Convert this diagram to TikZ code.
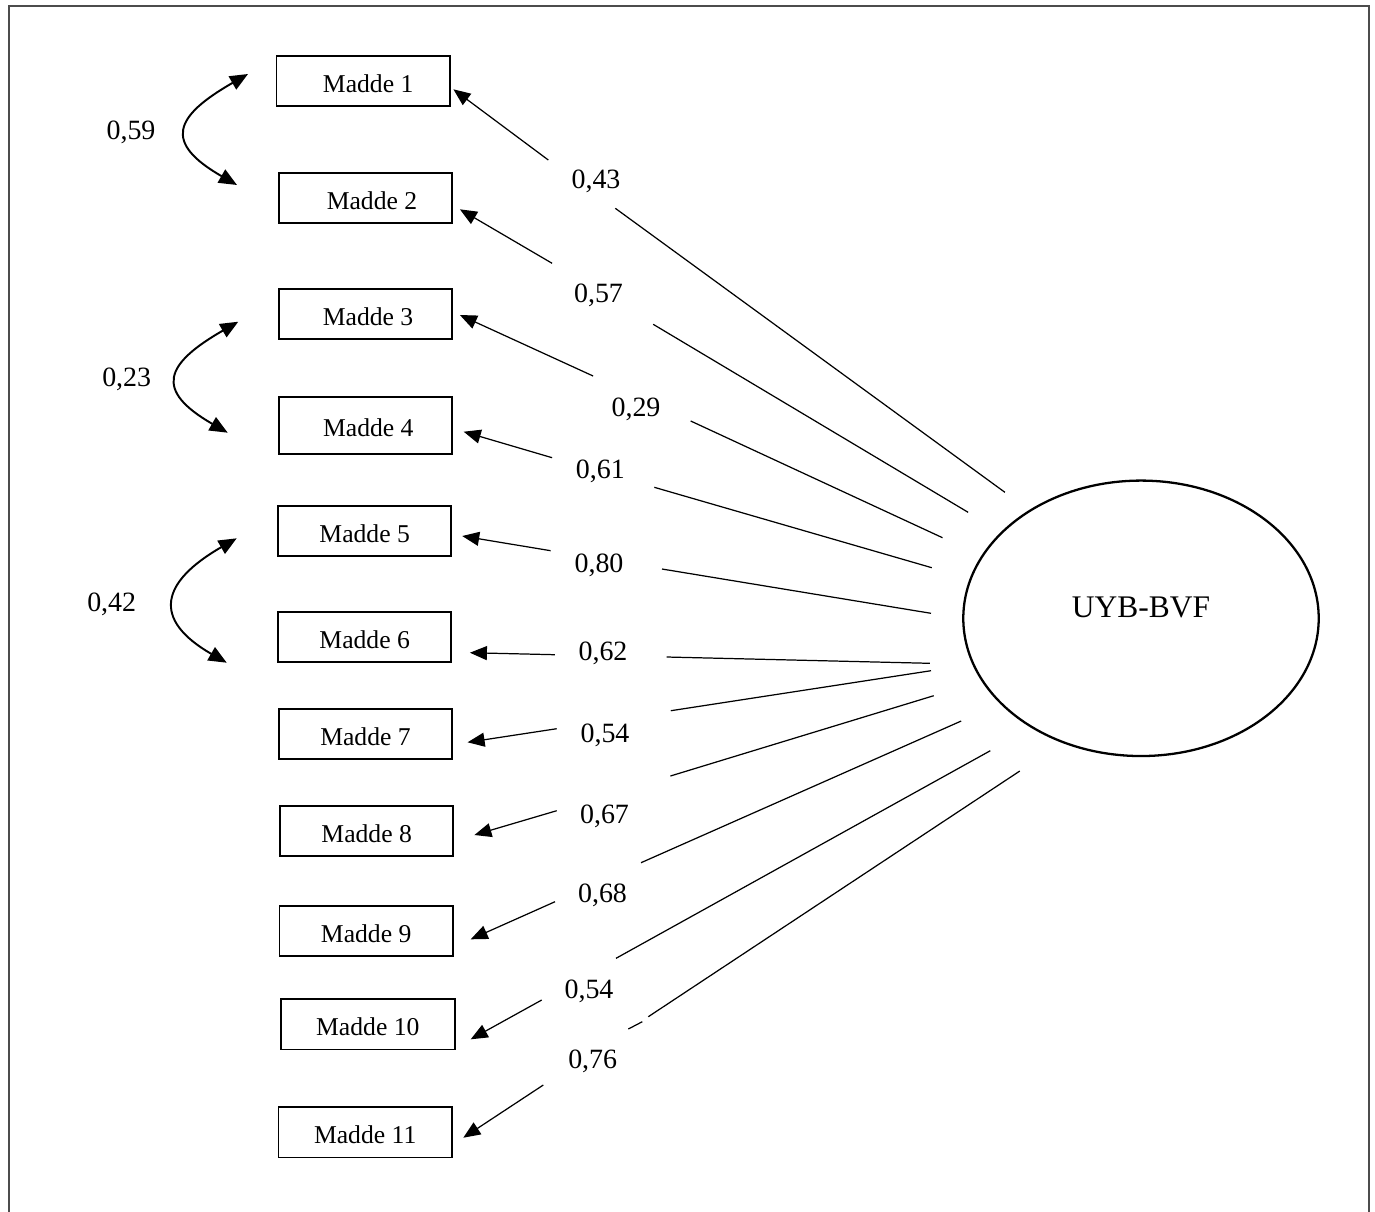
\documentclass[tikz,border=0pt]{standalone}
\usepackage{fontspec}
\setmainfont{Liberation Serif}
\usetikzlibrary{arrows.meta,shapes.geometric}
\begin{document}
\begin{tikzpicture}[x=0.02cm,y=-0.02cm,
  box/.style={draw,line width=1.1pt,minimum width=3.47cm,minimum height=1.01cm,inner sep=0pt,
    font=\fontsize{14.6}{17}\selectfont,text height=0.46cm,text depth=0pt},
  lbl/.style={anchor=base,inner sep=0pt,font=\fontsize{15.9}{18}\selectfont},
  conn/.style={line width=0.7pt},
  arr/.style={conn,-{Triangle[length=0.34cm,width=0.28cm]}},
  curv/.style={line width=1.1pt,{Triangle[length=0.36cm,width=0.3cm]}-{Triangle[length=0.36cm,width=0.3cm]}},
  frame/.style={draw=black!70,line width=1pt}
]
\useasboundingbox (0,0) rectangle (1375,1211);
% frame
\draw[frame] (9,1220) -- (9,6) -- (1369,6) -- (1369,1220);

% boxes
\node[box] (m1) at (363.2,80.8) {\hspace*{0.2cm}Madde 1};
\node[box] (m2) at (365.5,198) {\hspace*{0.26cm}Madde 2};
\node[box] (m3) at (365.3,313.8) {\hspace*{0.11cm}Madde 3};
\node[box,minimum height=1.13cm] (m4) at (365.3,425.3) {\hspace*{0.12cm}Madde 4};
\node[box] (m5) at (364.7,530.8) {Madde 5};
\node[box] (m6) at (364.7,636.8) {Madde 6};
\node[box] (m7) at (365.5,734.2) {Madde 7};
\node[box] (m8) at (366.7,831.2) {Madde 8};
\node[box] (m9) at (366.2,931.2) {Madde 9};
\node[box] (m10) at (367.8,1024.2) {Madde 10};
\node[box] (m11) at (365.2,1132.2) {Madde 11};

% latent
\node[ellipse,draw,line width=1.3pt,minimum width=7.11cm,minimum height=5.51cm,inner sep=0pt,
  font=\fontsize{17.9}{21}\selectfont,text height=0.44cm,text depth=0.49cm] (f) at (1141,618.3) {UYB-BVF};

% arrow tips and starts
\coordinate (s1) at (548.3,160);   \coordinate (t1) at (453.4,89.3);
\coordinate (s2) at (552.1,263.3); \coordinate (t2) at (459.9,209.3);
\coordinate (s3) at (593.1,376);   \coordinate (t3) at (459.9,315);
\coordinate (s4) at (552.1,457.7); \coordinate (t4) at (463.7,431.7);
\coordinate (s5) at (550.6,550.7); \coordinate (t5) at (462.2,536);
\coordinate (s6) at (554.8,654.7); \coordinate (t6) at (469.9,652.7);
\coordinate (s7) at (556.7,728.7); \coordinate (t7) at (467.6,742.3);
\coordinate (s8) at (556.7,810.7); \coordinate (t8) at (474.4,835);
\coordinate (s9) at (555,901.7);   \coordinate (t9) at (470.7,939.3);
\coordinate (s10) at (541.7,1000); \coordinate (t10) at (470.7,1039.3);
\coordinate (s11) at (543.3,1085); \coordinate (t11) at (463.3,1137.7);

% line ends
\coordinate (o1) at (1004.9,492.3); \coordinate (i1) at (615.3,208.3);
\coordinate (o2) at (968.1,512.3);  \coordinate (i2) at (653.2,324.3);
\coordinate (o3) at (942.5,537.7);  \coordinate (i3) at (690.7,421);
\coordinate (o4) at (931.8,567.7);  \coordinate (i4) at (654.3,487.3);
\coordinate (o5) at (931,613.3);    \coordinate (i5) at (662,569);
\coordinate (o6) at (929.9,663.3);  \coordinate (i6) at (666.6,657);
\coordinate (o7) at (931,670.7);    \coordinate (i7) at (670.8,710.7);
\coordinate (o8) at (933.7,695.7);  \coordinate (i8) at (670.4,776);
\coordinate (o9) at (961.2,721);    \coordinate (i9) at (641,862.7);
\coordinate (o10) at (990.3,750.7); \coordinate (i10) at (616,958.3);
\coordinate (o11) at (1019.8,771);  \coordinate (i11) at (648.3,1016.7);
\coordinate (d1) at (642.3,1021.7); \coordinate (d2) at (628.3,1029);

\foreach \k in {1,...,11}{
  \draw[arr] (s\k) -- (t\k);
  \draw[conn] (o\k) -- (i\k);
}
\draw[conn] (d1) -- (d2);

% loading labels
\node[lbl] (l1) at (596,188.3) {0,43};
\node[lbl] (l2) at (598.5,302.7) {0,57};
\node[lbl] (l3) at (636,416) {0,29};
\node[lbl] (l4) at (600.3,478.3) {0,61};
\node[lbl] (l5) at (599,572.7) {0,80};
\node[lbl] (l6) at (603,660) {0,62};
\node[lbl] (l7) at (605,742.7) {0,54};
\node[lbl] (l8) at (604.5,823.3) {0,67};
\node[lbl] (l9) at (602.5,902.7) {0,68};
\node[lbl] (l10) at (589,998.3) {0,54};
\node[lbl] (l11) at (592.7,1068.3) {0,76};

% correlations
\coordinate (ca1) at (248,74);     \coordinate (cb1) at (237,185);
\coordinate (ca2) at (238.3,321.7); \coordinate (cb2) at (227.7,432.7);
\coordinate (ca3) at (236.7,538.3); \coordinate (cb3) at (226.7,662.7);
\draw[curv] (ca1) .. controls (174,116.5) and (163,142.5) .. (cb1);
\draw[curv] (ca2) .. controls (164.6,364.1) and (154,390.3) .. (cb2);
\draw[curv] (ca3) .. controls (161.1,581.8) and (151.1,619.2) .. (cb3);
\node[lbl] (r1) at (131,139.3) {0,59};
\node[lbl] (r2) at (126.7,386.7) {0,23};
\node[lbl] (r3) at (111.7,611.7) {0,42};
\end{tikzpicture}
\end{document}
